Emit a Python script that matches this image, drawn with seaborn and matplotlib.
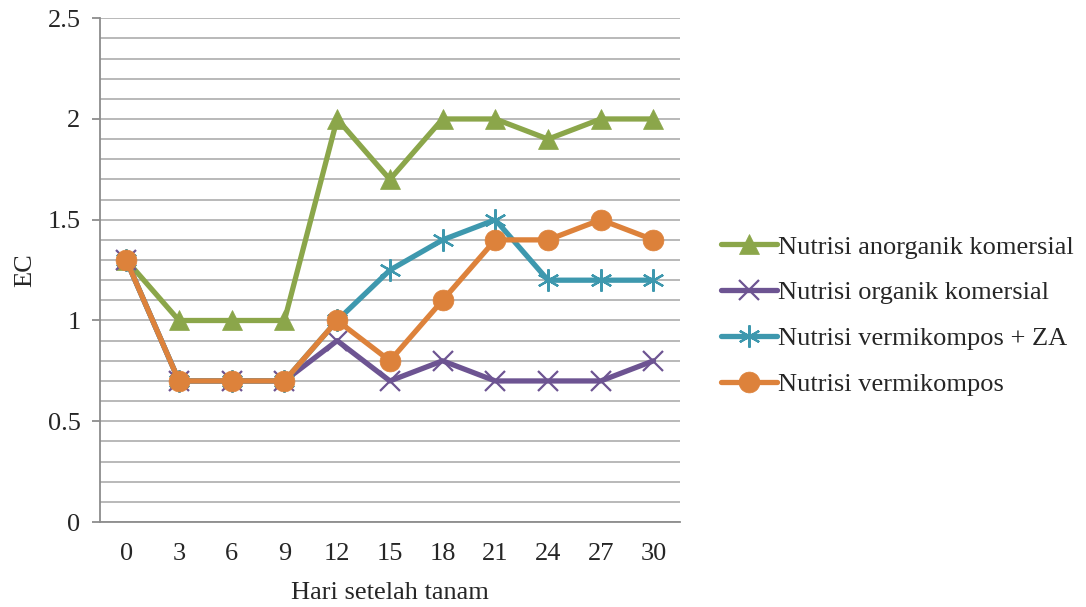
import matplotlib
matplotlib.use("Agg")
import matplotlib.pyplot as plt
from matplotlib.ticker import MultipleLocator, FixedLocator, FuncFormatter
import seaborn as sns
import pandas as pd

# Days after planting
days = [0, 3, 6, 9, 12, 15, 18, 21, 24, 27, 30]

# EC readings per nutrient treatment
anorganik = [1.3, 1.0, 1.0, 1.0, 2.0, 1.7, 2.0, 2.0, 1.9, 2.0, 2.0]
organik = [1.3, 0.7, 0.7, 0.7, 0.9, 0.7, 0.8, 0.7, 0.7, 0.7, 0.8]
vermi_za = [1.3, 0.7, 0.7, 0.7, 1.0, 1.25, 1.4, 1.5, 1.2, 1.2, 1.2]
vermi = [1.3, 0.7, 0.7, 0.7, 1.0, 0.8, 1.1, 1.4, 1.4, 1.5, 1.4]

series_names = [
    "Nutrisi anorganik komersial",
    "Nutrisi organik komersial",
    "Nutrisi vermikompos + ZA",
    "Nutrisi vermikompos",
]
series_values = [anorganik, organik, vermi_za, vermi]
colors = ["#8BA64A", "#6D5492", "#3E98AE", "#DD823B"]
markers = ["^", "x", (6, 2, 0), "o"]
marker_sizes = [14, 14, 16, 15]

rows = []
for name, vals in zip(series_names, series_values):
    for d, v in zip(days, vals):
        rows.append({"Hari": d, "EC": v, "Perlakuan": name})
df = pd.DataFrame(rows)

sns.set_style("white")
plt.rcParams["font.family"] = ["Liberation Serif", "DejaVu Serif"]
FS = 19

fig = plt.figure(figsize=(10.86, 6.07), dpi=100)
ax = fig.add_axes([0.092, 0.140, 0.534, 0.830])

for i, name in enumerate(series_names):
    sub = df[df["Perlakuan"] == name]
    sns.lineplot(
        data=sub, x="Hari", y="EC", ax=ax, color=colors[i],
        marker=markers[i], markersize=marker_sizes[i],
        markeredgecolor=colors[i], markerfacecolor=colors[i],
        markeredgewidth=1.6 if i in (1, 2) else 0.5,
        linewidth=3.8, label=name, zorder=3 + i,
        solid_capstyle="round",
    )

ax.set_xlim(-1.5, 31.5)
ax.set_ylim(0, 2.5)
ax.set_xticks(days)
ax.set_xticklabels([str(d) for d in days])
ax.xaxis.set_minor_locator(FixedLocator([d - 1.5 for d in days] + [31.5]))
ax.yaxis.set_major_locator(MultipleLocator(0.5))
ax.yaxis.set_minor_locator(MultipleLocator(0.1))
ax.yaxis.set_major_formatter(FuncFormatter(lambda v, p: f"{v:g}"))

ax.grid(axis="y", which="both", color="#B3B3B3", linewidth=1.3)
ax.grid(axis="x", which="both", visible=False)
ax.set_axisbelow(True)

for side in ["top", "right"]:
    ax.spines[side].set_visible(False)
for side in ["left", "bottom"]:
    ax.spines[side].set_color("#8C8C8C")
    ax.spines[side].set_linewidth(1.3)

ax.tick_params(axis="x", which="major", length=0, pad=15, labelsize=FS)
ax.tick_params(axis="x", which="minor", length=6, width=1.3, color="#8C8C8C", direction="out")
ax.tick_params(axis="y", which="major", length=6, width=1.3, color="#8C8C8C", direction="out",
               labelsize=FS, pad=8, left=True)
ax.tick_params(axis="y", which="minor", length=0)

ax.set_xlabel("Hari setelah tanam", fontsize=FS, labelpad=12)
ax.set_ylabel("EC", fontsize=FS, labelpad=8)

ax.legend(
    loc="center left", bbox_to_anchor=(0.664, 0.480), bbox_transform=fig.transFigure,
    frameon=False, fontsize=FS, handlelength=2.1, handletextpad=0.05,
    labelspacing=0.85, borderaxespad=0, borderpad=0,
)

fig.savefig("out.png", dpi=100)
